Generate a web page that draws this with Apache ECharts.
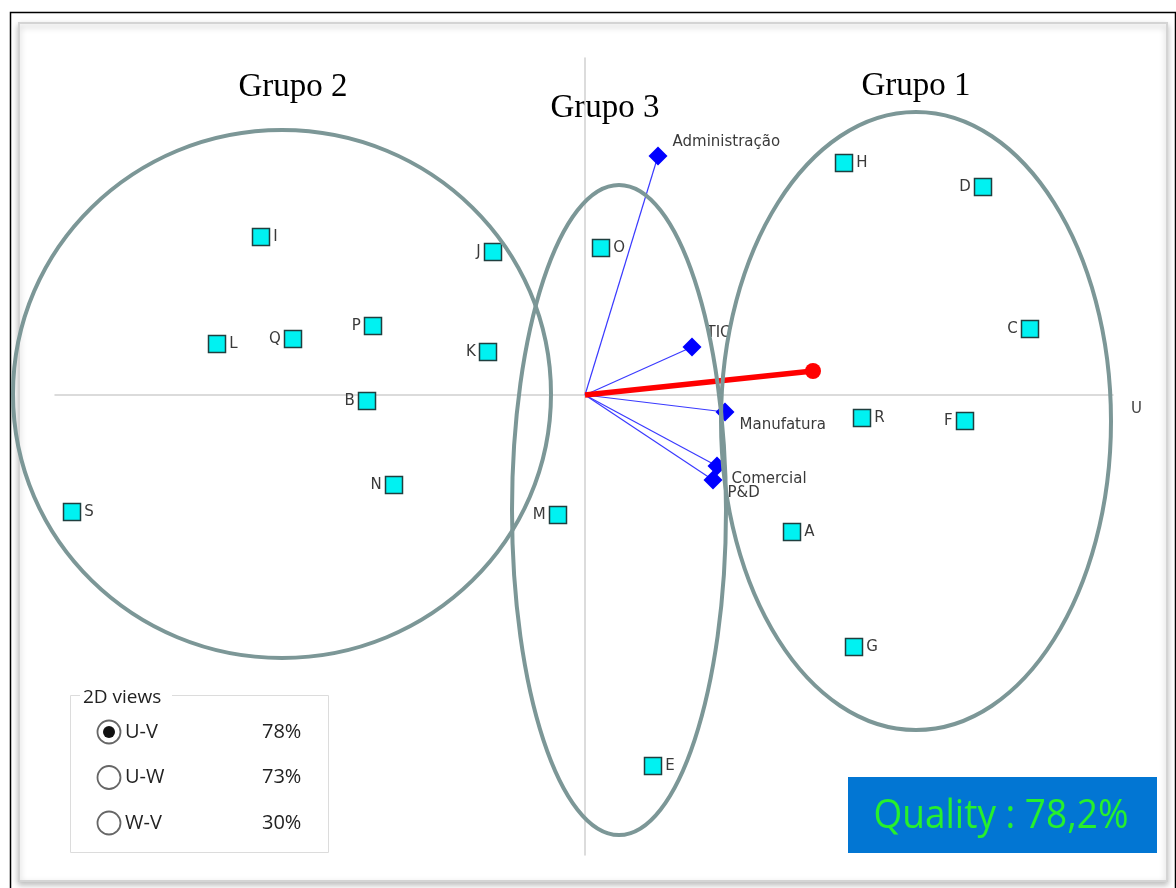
<!DOCTYPE html>
<html>
<head>
<meta charset="utf-8">
<script src="https://cdn.jsdelivr.net/npm/echarts@6/dist/echarts.min.js"></script>
<style>
  html, body { margin: 0; padding: 0; background: #fff; }
  #chart { width: 1176px; height: 888px; }
</style>
</head>
<body>
<div id="chart"></div>
<script>
// alternatives on the GAIA plane (U, V)
const alternatives = ['I', 'J', 'O', 'L', 'Q', 'P', 'K', 'B', 'N', 'S', 'M', 'E', 'H', 'D', 'C', 'R', 'F', 'A', 'G']
const altU = [-3.24, -0.92, 0.16, -3.68, -2.92, -2.12, -0.97, -2.18, -1.91, -5.13, -0.27, 0.68, 2.59, 3.98, 4.45, 2.77, 3.80, 2.07, 2.69]
const altV = [1.58, 1.43, 1.47, 0.51, 0.56, 0.69, 0.43, -0.06, -0.90, -1.17, -1.20, -3.71, 2.32, 2.08, 0.66, -0.23, -0.26, -1.37, -2.52]

// criteria axes
const criteria = ['Administração', 'TIC', 'Manufatura', 'Comercial', 'P&D']
const critU = [0.73, 1.07, 1.40, 1.32, 1.28]
const critV = [2.39, 0.48, -0.17, -0.71, -0.85]

// decision axis (pi)
const decisionAxis = [2.28, 0.24]

// groups drawn as ellipses: center + radii
const groups = ['Grupo 1', 'Grupo 2', 'Grupo 3']
const groupU = [3.31, -3.03, 0.34]
const groupV = [-0.26, 0.01, -1.15]
const groupRU = [1.95, 2.69, 1.07]
const groupRV = [3.09, 2.64, 3.25]

// 2D views panel
const views = ['U-V', 'U-W', 'W-V']
const viewPct = [78, 73, 30]
const quality = '78,2%'

const LEFT_LABELS = ['J', 'Q', 'P', 'K', 'B', 'N', 'M', 'D', 'C', 'F']
const LABEL_FONT = '"DejaVu Sans", sans-serif'
const UI_FONT = '"Open Sans", "Noto Sans", sans-serif'
const SERIF = '33px "Liberation Serif", serif'

const chart = echarts.init(document.getElementById('chart'))

function buildGraphic() {
  const items = [
    {
      type: 'rect', z: -10,
      shape: { x: 19, y: 23, width: 1148, height: 858 },
      style: { fill: '#fff', stroke: '#d4d4d4', lineWidth: 2, shadowBlur: 6, shadowColor: 'rgba(0,0,0,0.25)', shadowOffsetY: 3 }
    },
    {
      type: 'polyline', z: -9,
      shape: { points: [[10.5, 900], [10.5, 12.5], [1175.5, 12.5], [1175.5, 900]] },
      style: { fill: 'none', stroke: '#000', lineWidth: 1.5 }
    },
    { type: 'text', x: 293, y: 87, style: { text: 'Grupo 2', font: SERIF, fill: '#000', align: 'center', verticalAlign: 'middle' } },
    { type: 'text', x: 605, y: 108, style: { text: 'Grupo 3', font: SERIF, fill: '#000', align: 'center', verticalAlign: 'middle' } },
    { type: 'text', x: 916, y: 86, style: { text: 'Grupo 1', font: SERIF, fill: '#000', align: 'center', verticalAlign: 'middle' } },
    // 2D views box
    {
      type: 'rect',
      shape: { x: 70.5, y: 695.5, width: 258, height: 157 },
      style: { fill: '#fff', stroke: '#dcdcdc', lineWidth: 1 }
    },
    { type: 'rect', shape: { x: 80, y: 688, width: 92, height: 14 }, style: { fill: '#fff' } },
    { type: 'text', x: 83, y: 698, style: { text: '2D views', font: '19px ' + UI_FONT, fill: '#222', verticalAlign: 'middle' } },
    // quality box
    {
      type: 'rect',
      shape: { x: 848, y: 777, width: 309, height: 76 },
      style: { fill: '#0276d3' }
    },
    {
      type: 'text', x: 1001, y: 816, scaleY: 1.1,
      style: { text: 'Quality : ' + quality, font: '37px ' + UI_FONT, fill: '#27f02c', align: 'center', verticalAlign: 'middle' }
    }
  ]
  views.forEach((v, i) => {
    const cy = 732 + i * 45.5
    items.push({ type: 'circle', shape: { cx: 109, cy: cy, r: 11.5 }, style: { fill: '#fff', stroke: '#666', lineWidth: 1.8 } })
    if (i === 0) items.push({ type: 'circle', shape: { cx: 109, cy: cy, r: 6 }, style: { fill: '#111' } })
    items.push({ type: 'text', x: 125, y: cy, style: { text: v, font: '20px ' + UI_FONT, fill: '#222', verticalAlign: 'middle' } })
    items.push({ type: 'text', x: 262, y: cy, style: { text: viewPct[i] + '%', font: '20px ' + UI_FONT, fill: '#222', verticalAlign: 'middle' } })
  })
  return items
}

function buildOption() {
  const altData = alternatives.map((name, i) => ({
    name: name,
    value: [altU[i], altV[i]],
    label: { position: LEFT_LABELS.includes(name) ? 'left' : 'right' }
  }))
  const critData = criteria.map((name, i) => ({
    name: name,
    value: [critU[i], critV[i]],
    label: { offset: [0, i < 2 ? -14 : 13] }
  }))
  const groupData = groups.map((name, i) => [groupU[i], groupV[i], groupRU[i], groupRV[i]])

  return {
    animation: false,
    graphic: buildGraphic(),
    grid: { left: 55, right: 63, top: 58, bottom: 33 },
    xAxis: {
      type: 'value', min: -5.30, max: 5.28,
      name: 'U', nameGap: 18,
      nameTextStyle: { fontFamily: LABEL_FONT, fontSize: 15, color: '#444', verticalAlign: 'top', padding: [7, 0, 0, 0] },
      axisLine: { onZero: true, lineStyle: { color: '#d0d0d0', width: 1.5 } },
      axisTick: { show: false }, axisLabel: { show: false }, splitLine: { show: false }
    },
    yAxis: {
      type: 'value', min: -4.60, max: 3.37,
      axisLine: { onZero: true, lineStyle: { color: '#d0d0d0', width: 1.5 } },
      axisTick: { show: false }, axisLabel: { show: false }, splitLine: { show: false }
    },
    series: [
      {
        type: 'lines',
        coordinateSystem: 'cartesian2d',
        z: 2,
        lineStyle: { color: '#3a3aff', width: 1.2, opacity: 1 },
        data: criteria.map((name, i) => ({ coords: [[0, 0], [critU[i], critV[i]]] }))
      },
      {
        type: 'line',
        z: 3,
        lineStyle: { color: '#ff0000', width: 5.5 },
        itemStyle: { color: '#ff0000' },
        data: [
          { value: [0, 0], symbol: 'none' },
          { value: decisionAxis, symbol: 'circle', symbolSize: 16 }
        ]
      },
      {
        type: 'scatter',
        z: 4,
        symbol: 'diamond',
        symbolSize: 19,
        itemStyle: { color: '#0000ff', opacity: 1 },
        label: {
          show: true, position: 'right', distance: 5,
          formatter: '{b}', fontFamily: LABEL_FONT, fontSize: 15, color: '#3a3a3a'
        },
        data: critData
      },
      {
        type: 'scatter',
        z: 4,
        symbol: 'rect',
        symbolSize: 17,
        itemStyle: { color: '#00f2f2', borderColor: '#1f3f3f', borderWidth: 1.5, opacity: 1 },
        label: {
          show: true, distance: 3,
          formatter: '{b}', fontFamily: LABEL_FONT, fontSize: 15, color: '#3a3a3a'
        },
        data: altData
      },
      {
        type: 'custom',
        z: 5,
        renderItem: (params, api) => {
          const c = api.coord([api.value(0), api.value(1)])
          const s = api.size([api.value(2), api.value(3)])
          return {
            type: 'ellipse',
            shape: { cx: c[0], cy: c[1], rx: s[0], ry: s[1] },
            style: { fill: 'none', stroke: '#7c9797', lineWidth: 4 }
          }
        },
        data: groupData
      }
    ]
  }
}

chart.setOption(buildOption())
</script>
</body>
</html>
